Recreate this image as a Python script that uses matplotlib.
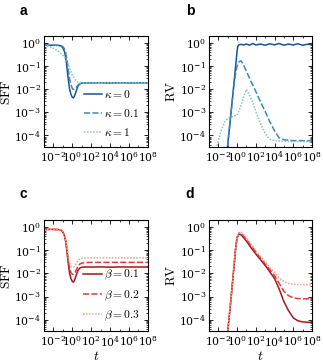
import matplotlib
matplotlib.use("Agg")
import matplotlib.pyplot as plt
from matplotlib.ticker import LogLocator, NullFormatter

plt.rcParams['mathtext.fontset'] = 'cm'
plt.rcParams['font.family'] = ['DejaVu Serif']

# ---------------- data ----------------
# panel a: SFF for kappa
t_a = [1e-3, 3e-3, 1e-2, 3e-2, 0.06, 0.1, 0.15, 0.2, 0.25, 0.3, 0.4, 0.5, 0.7, 1.0, 1.3,
       1.7, 2.2, 3, 4, 6, 10, 30, 100, 1e3, 1e4, 1e5, 1e6, 1e7, 1e8]
sff_k0 = [0.8, 0.8, 0.8, 0.79, 0.75, 0.62, 0.42, 0.24, 0.12, 0.06, 0.022, 0.011, 0.0062, 0.0045, 0.0042,
          0.0050, 0.0068, 0.0100, 0.0135, 0.0170, 0.0185, 0.0190, 0.0188, 0.0192, 0.0186, 0.0191, 0.0189, 0.0190, 0.0188]
sff_k01 = [0.8, 0.8, 0.8, 0.8, 0.78, 0.7, 0.55, 0.38, 0.24, 0.15, 0.06, 0.03, 0.016, 0.011, 0.0098,
           0.0100, 0.0112, 0.0130, 0.0150, 0.0172, 0.0185, 0.0190, 0.0188, 0.0191, 0.0187, 0.0190, 0.0189, 0.0191, 0.0188]
sff_k1 = [0.78, 0.72, 0.6, 0.45, 0.36, 0.3, 0.24, 0.2, 0.17, 0.15, 0.11, 0.085, 0.06, 0.042, 0.034,
          0.029, 0.025, 0.022, 0.020, 0.019, 0.0188, 0.0190, 0.0188, 0.0191, 0.0187, 0.0190, 0.0189, 0.0191, 0.0188]

# panel b: RV for kappa
t_b0 = [0.05, 0.1, 0.2, 0.3, 0.5, 0.7, 1.0, 1.2, 1.5, 2, 3, 5, 10, 20, 50, 100, 300, 1e3, 3e3, 1e4, 3e4,
        1e5, 3e5, 1e6, 3e6, 1e7, 3e7, 1e8]
rv_k0 = [3e-6, 4e-5, 6e-4, 3e-3, 2.5e-2, 0.1, 0.45, 0.72, 0.82, 0.85, 0.87, 0.82, 0.9, 0.8, 0.95, 0.82, 0.9,
         0.8, 0.92, 0.83, 0.95, 0.8, 0.9, 0.82, 0.93, 0.8, 0.88, 0.85]
t_b1 = [0.05, 0.1, 0.2, 0.3, 0.5, 0.7, 1.0, 1.5, 2.5, 4, 10, 30, 100, 300, 1e3, 3e3, 1e4, 3e4, 1e5,
        1e6, 1e7, 1e8]
rv_k01 = [3e-6, 4e-5, 6e-4, 3e-3, 2e-2, 5e-2, 0.1, 0.15, 0.17, 0.13, 0.06, 0.022, 0.008, 0.003, 0.0011,
          0.0004, 0.00016, 8e-5, 6.5e-5, 6e-5, 6e-5, 6e-5]
t_b2 = [5e-3, 1e-2, 2e-2, 5e-2, 0.1, 0.3, 1.0, 2.5, 5, 10, 20, 50, 100, 300, 1e3, 3e3, 1e4, 1e5,
        1e6, 1e7, 1e8]
rv_k1 = [2e-5, 6e-5, 1.6e-4, 4e-4, 5.5e-4, 6.5e-4, 7.5e-4, 0.0018, 0.005, 0.0098, 0.006, 0.0025, 0.0011,
         0.00035, 0.00012, 7e-5, 6e-5, 5.5e-5, 5.5e-5, 5.5e-5, 5.5e-5]

# panel c: SFF for beta
t_c = t_a
sff_b01 = sff_k0
sff_b02 = [0.8, 0.8, 0.8, 0.79, 0.75, 0.63, 0.44, 0.26, 0.14, 0.075, 0.032, 0.018, 0.011, 0.0092, 0.0090,
           0.0098, 0.0120, 0.0160, 0.0200, 0.0250, 0.0280, 0.0295, 0.0300, 0.0300, 0.0300, 0.0300, 0.0300, 0.0300, 0.0300]
sff_b03 = [0.8, 0.8, 0.8, 0.79, 0.76, 0.65, 0.47, 0.3, 0.18, 0.1, 0.048, 0.03, 0.021, 0.0185, 0.0185,
           0.0200, 0.0240, 0.0300, 0.0360, 0.0420, 0.0450, 0.0470, 0.0470, 0.0470, 0.0470, 0.0470, 0.0470, 0.0470, 0.0470]

# panel d: RV for beta
t_d = [0.05, 0.1, 0.2, 0.4, 0.7, 1.0, 1.7, 3, 10, 30, 100, 300, 1e3, 3e3, 1e4, 3e4, 1e5, 3e5,
       1e6, 3e6, 1e7, 1e8]
rv_b01 = [3e-6, 3e-5, 5e-4, 1e-2, 0.12, 0.35, 0.52, 0.45, 0.25, 0.13, 0.07, 0.04, 0.022, 0.012, 0.006,
          0.0022, 0.0006, 0.00025, 0.00012, 9e-5, 8e-5, 7.5e-5]
rv_b02 = [3e-6, 3e-5, 5e-4, 1e-2, 0.12, 0.36, 0.56, 0.52, 0.3, 0.16, 0.085, 0.047, 0.026, 0.015, 0.008,
          0.0038, 0.0017, 0.0011, 0.00088, 0.00082, 0.0008, 0.0008]
rv_b03 = [3e-6, 3e-5, 5e-4, 1e-2, 0.12, 0.37, 0.6, 0.6, 0.35, 0.19, 0.1, 0.055, 0.031, 0.018, 0.011,
          0.0065, 0.0045, 0.0037, 0.0034, 0.0033, 0.0033, 0.0033]

kappa_labels = [r"$\kappa = 0$", r"$\kappa = 0.1$", r"$\kappa = 1$"]
beta_labels = [r"$\beta = 0.1$", r"$\beta = 0.2$", r"$\beta = 0.3$"]
xtick_vals = [1e-2, 1e0, 1e2, 1e4, 1e6, 1e8]
ytick_vals = [1e-4, 1e-3, 1e-2, 1e-1, 1e0]

blues = ["#1a5490", "#3f86bd", "#84c6bb"]
reds = ["#a8141c", "#e0383a", "#f7a08c"]
styles = ["-", (0, (4, 1.5)), (0, (1, 1))]

fig = plt.figure(figsize=(3.23, 3.64), dpi=100)
axa = fig.add_axes([0.136, 0.596, 0.322, 0.305])
axb = fig.add_axes([0.647, 0.596, 0.319, 0.305])
axc = fig.add_axes([0.136, 0.09, 0.322, 0.305])
axd = fig.add_axes([0.647, 0.09, 0.319, 0.305])

lw = 1.1
axa.plot(t_a, sff_k0, color=blues[0], ls=styles[0], lw=lw, label=kappa_labels[0])
axa.plot(t_a, sff_k01, color=blues[1], ls=styles[1], lw=lw, label=kappa_labels[1])
axa.plot(t_a, sff_k1, color=blues[2], ls=styles[2], lw=lw, label=kappa_labels[2])

axb.plot(t_b0, rv_k0, color=blues[0], ls=styles[0], lw=lw)
axb.plot(t_b1, rv_k01, color=blues[1], ls=styles[1], lw=lw)
axb.plot(t_b2, rv_k1, color=blues[2], ls=styles[2], lw=lw)

axc.plot(t_c, sff_b01, color=reds[0], ls=styles[0], lw=lw, label=beta_labels[0])
axc.plot(t_c, sff_b02, color=reds[1], ls=styles[1], lw=lw, label=beta_labels[1])
axc.plot(t_c, sff_b03, color=reds[2], ls=styles[2], lw=lw, label=beta_labels[2])

axd.plot(t_d, rv_b01, color=reds[0], ls=styles[0], lw=lw)
axd.plot(t_d, rv_b02, color=reds[1], ls=styles[1], lw=lw)
axd.plot(t_d, rv_b03, color=reds[2], ls=styles[2], lw=lw)

for ax in (axa, axb, axc, axd):
    ax.set_xscale('log')
    ax.set_yscale('log')
    ax.set_xlim(1e-3, 1e8)
    ax.set_ylim(10**-4.5, 10**0.3)
    ax.set_xticks(xtick_vals)
    ax.set_yticks(ytick_vals)
    ax.xaxis.set_minor_locator(LogLocator(base=10, subs=(1.0,), numticks=20))
    ax.yaxis.set_minor_locator(LogLocator(base=10, subs=(2, 3, 4, 5, 6, 7, 8, 9), numticks=20))
    ax.xaxis.set_minor_formatter(NullFormatter())
    ax.yaxis.set_minor_formatter(NullFormatter())
    ax.tick_params(which='both', direction='in', top=True, right=True, labelsize=7.8, pad=2)
    ax.tick_params(which='major', length=3, width=0.6)
    ax.tick_params(which='minor', length=1.5, width=0.5)
    for s in ax.spines.values():
        s.set_linewidth(0.8)

axa.set_ylabel(r"$\mathrm{SFF}$", fontsize=9.5, labelpad=1)
axc.set_ylabel(r"$\mathrm{SFF}$", fontsize=9.5, labelpad=1)
axb.set_ylabel(r"$\mathrm{RV}$", fontsize=9.5, labelpad=1)
axd.set_ylabel(r"$\mathrm{RV}$", fontsize=9.5, labelpad=1)
axc.set_xlabel(r"$t$", fontsize=10, labelpad=0)
axd.set_xlabel(r"$t$", fontsize=10, labelpad=0)

for ax in (axa, axc):
    ax.legend(loc='lower right', frameon=False, fontsize=8.3, handlelength=1.6,
              handletextpad=0.2, labelspacing=0.5, borderaxespad=0.3)

for lab, (x, y) in zip("abcd", [(0.06, 0.99), (0.575, 0.99), (0.06, 0.485), (0.575, 0.485)]):
    fig.text(x, y, lab, fontsize=10, fontweight='bold', family='Liberation Sans', va='top')

fig.savefig("out.png", dpi=100)
